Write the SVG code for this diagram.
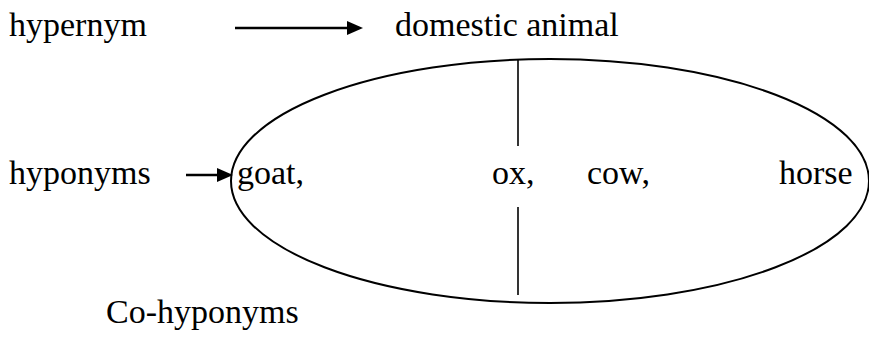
<svg xmlns="http://www.w3.org/2000/svg" width="869" height="338" viewBox="0 0 869 338">
<g id="hypernym"><text x="9" y="36" font-family="Times New Roman" font-size="34">hypernym</text></g>
<g id="domestic-animal"><text x="395" y="36" font-family="Times New Roman" font-size="34">domestic animal</text></g>
<g id="hyponyms"><text x="9" y="184" font-family="Times New Roman" font-size="34">hyponyms</text></g>
<g id="co-hyponyms-set">
<ellipse cx="550" cy="181" rx="319" ry="122" fill="none" stroke="#000" stroke-width="2"/>
<line x1="518" y1="59" x2="518" y2="146" stroke="#000" stroke-width="1.6"/>
<line x1="518" y1="207" x2="518" y2="295" stroke="#000" stroke-width="1.6"/>
<text x="237" y="184" font-family="Times New Roman" font-size="34">goat,</text>
<text x="492" y="184" font-family="Times New Roman" font-size="34">ox,</text>
<text x="587" y="184" font-family="Times New Roman" font-size="34">cow,</text>
<text x="779" y="184" font-family="Times New Roman" font-size="34">horse</text>
</g>
<g id="co-hyponyms"><text x="106" y="323" font-family="Times New Roman" font-size="34">Co-hyponyms</text></g>
<g id="connectors">
<line x1="235" y1="28" x2="349" y2="28" stroke="#000" stroke-width="2.5"/>
<polygon points="347,21 363,28 347,35" fill="#000"/>
<line x1="186" y1="175" x2="219" y2="175" stroke="#000" stroke-width="2.5"/>
<polygon points="217,168 233,175 217,182" fill="#000"/>
</g>
</svg>
